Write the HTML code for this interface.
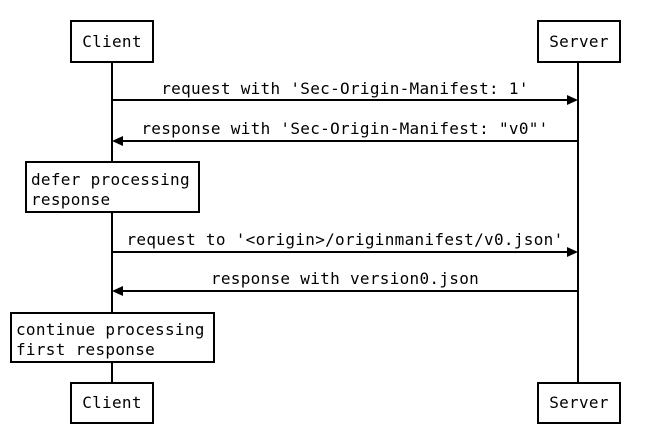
<!DOCTYPE html>
<html><head><meta charset="utf-8"><style>
html,body{margin:0;padding:0;background:#fff;}
svg{display:block;}
text{font-family:"DejaVu Sans Mono","Liberation Mono",monospace;font-size:16px;letter-spacing:0.3px;fill:#000;}
</style></head><body>
<svg width="649" height="444" viewBox="0 0 649 444" xmlns="http://www.w3.org/2000/svg">
<g stroke="#000" stroke-width="2" fill="none">
<line x1="112" y1="62" x2="112" y2="383"/>
<line x1="578" y1="62" x2="578" y2="383"/>
<rect x="71" y="21" width="82" height="41" fill="#fff"/>
<rect x="538" y="21" width="82" height="41" fill="#fff"/>
<rect x="71" y="383" width="82" height="40" fill="#fff"/>
<rect x="538" y="383" width="82" height="40" fill="#fff"/>
<rect x="26" y="162" width="173" height="50" fill="#fff"/>
<rect x="11" y="313" width="203" height="49" fill="#fff"/>
<line x1="112" y1="100" x2="568" y2="100"/>
<line x1="122" y1="141" x2="578" y2="141"/>
<line x1="112" y1="252" x2="568" y2="252"/>
<line x1="122" y1="291" x2="578" y2="291"/>
</g>
<g fill="#000">
<polygon points="578,100 567,95 567,105"/>
<polygon points="112,141 123,136 123,146"/>
<polygon points="578,252 567,247 567,257"/>
<polygon points="112,291 123,286 123,296"/>
</g>
<g text-anchor="middle">
<text x="112" y="47">Client</text>
<text x="579" y="47">Server</text>
<text x="112" y="408">Client</text>
<text x="579" y="408">Server</text>
<text x="345" y="94">request with 'Sec-Origin-Manifest: 1'</text>
<text x="345" y="134">response with 'Sec-Origin-Manifest: "v0"'</text>
<text x="345" y="245">request to '&lt;origin&gt;/originmanifest/v0.json'</text>
<text x="345" y="284">response with version0.json</text>
</g>
<text x="31" y="185">defer processing</text>
<text x="31" y="205">response</text>
<text x="16" y="335">continue processing</text>
<text x="16" y="355">first response</text>
</svg>
</body></html>
